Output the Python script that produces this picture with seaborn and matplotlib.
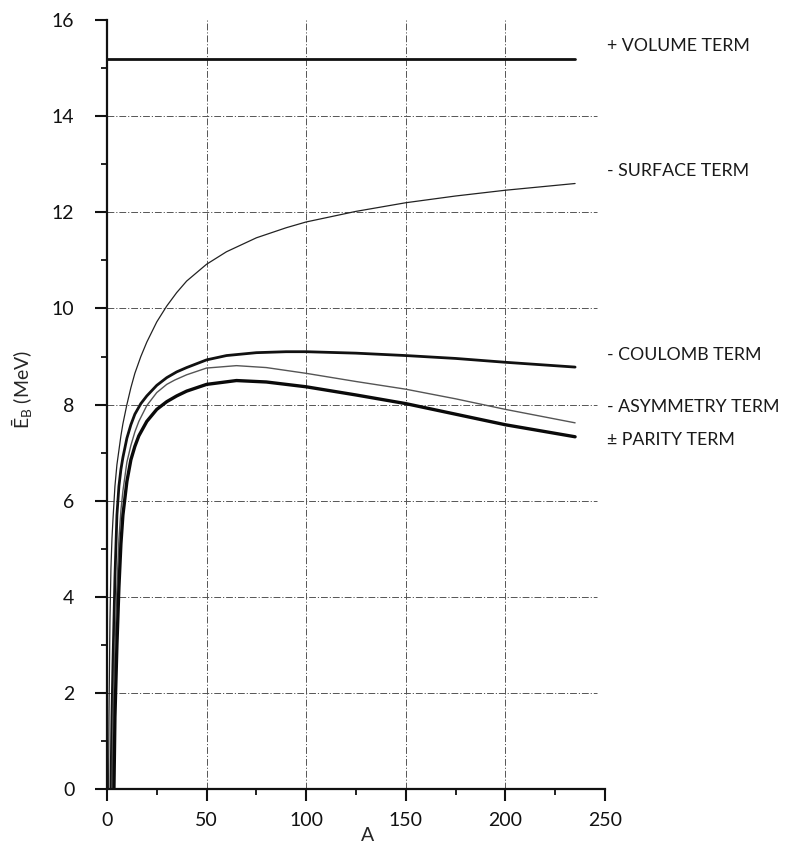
import numpy as np
import pandas as pd
import matplotlib
matplotlib.use("Agg")
import matplotlib.pyplot as plt
import seaborn as sns

sns.set_theme(style="ticks")
plt.rcParams['font.family'] = ['Lato', 'DejaVu Sans']
plt.rcParams['mathtext.fontset'] = 'custom'
plt.rcParams['mathtext.rm'] = 'Lato'

# values (A, mean binding energy per nucleon in MeV)
a_volume = [0, 50, 100, 150, 200, 235]
e_volume = [15.2, 15.2, 15.2, 15.2, 15.2, 15.2]

a_surface = [0.8, 1, 1.5, 2, 2.5, 3, 4, 5, 6, 7, 8, 10, 12, 14, 17, 20, 25,
             30, 35, 40, 50, 60, 75, 90, 100, 125, 150, 175, 200, 235]
e_surface = [0.0, 1.5, 3.5, 4.6, 5.2, 5.6, 6.3, 6.75, 7.05, 7.35, 7.6, 8.0,
             8.35, 8.65, 9.0, 9.3, 9.72, 10.05, 10.33, 10.57, 10.92, 11.18,
             11.47, 11.68, 11.8, 12.02, 12.2, 12.34, 12.46, 12.6]

a_coulomb = [2, 2.5, 3, 3.5, 4, 5, 6, 7, 8, 10, 12, 14, 17, 20, 25, 30, 35, 40,
             50, 60, 75, 90, 100, 125, 150, 175, 200, 235]
e_coulomb = [0.0, 1.5, 2.6, 3.5, 4.4, 5.7, 6.3, 6.65, 6.9, 7.3, 7.58, 7.8,
             8.02, 8.18, 8.4, 8.56, 8.68, 8.77, 8.93, 9.02, 9.08, 9.1, 9.1,
             9.07, 9.02, 8.96, 8.88, 8.78]

a_asym = [2.5, 3, 4, 5, 6, 7, 8, 10, 12, 14, 16, 20, 25, 30, 34, 40, 50, 65,
          80, 100, 125, 150, 175, 200, 235]
e_asym = [0.0, 1.5, 3.0, 4.2, 5.2, 5.8, 6.2, 6.8, 7.15, 7.43, 7.65, 7.98,
          8.25, 8.42, 8.51, 8.62, 8.76, 8.81, 8.77, 8.65, 8.48, 8.32, 8.12,
          7.9, 7.62]

a_parity = [3.5, 4, 5, 6, 7, 8, 10, 12, 14, 16, 20, 25, 30, 35, 40, 50, 65, 80,
            100, 125, 150, 175, 200, 235]
e_parity = [0.0, 1.5, 3.0, 4.2, 5.1, 5.7, 6.4, 6.85, 7.13, 7.35, 7.65, 7.9,
            8.06, 8.18, 8.28, 8.42, 8.5, 8.47, 8.37, 8.2, 8.02, 7.8, 7.58,
            7.33]

labels = ["+ VOLUME TERM", "- SURFACE TERM", "- COULOMB TERM",
          "- ASYMMETRY TERM", "\u00b1 PARITY TERM"]
label_y = [15.46, 12.85, 9.04, 7.94, 7.27]

fig = plt.figure(figsize=(7.9, 8.63), dpi=100)
ax = fig.add_axes([0.1354, 0.0857, 0.6304, 0.891])

# dash-dot grid, only inside the drawn area
grid_style = dict(color="#555555", lw=0.7, linestyles=[(0, (7, 2, 1.2, 2))], zorder=1)
ax.hlines(np.arange(2, 16, 2), 0, 246, **grid_style)
ax.vlines(np.arange(50, 250, 50), 0, 16, **grid_style)

sns.lineplot(x=a_volume, y=e_volume, ax=ax, color="#111111", lw=2.0)
sns.lineplot(x=a_surface, y=e_surface, ax=ax, color="#222222", lw=0.9)
sns.lineplot(x=a_coulomb, y=e_coulomb, ax=ax, color="#111111", lw=2.0)
sns.lineplot(x=a_asym, y=e_asym, ax=ax, color="#555555", lw=1.0)
sns.lineplot(x=a_parity, y=e_parity, ax=ax, color="#0a0a0a", lw=2.4)

for txt, yy in zip(labels, label_y):
    ax.text(251, yy, txt, fontsize=12.8, va="center", ha="left",
            color="#1a1a1a", clip_on=False)

ax.set_xlim(0, 250)
ax.set_ylim(0, 16)
ax.set_xticks([0, 50, 100, 150, 200, 250])
ax.set_xticks(np.arange(25, 250, 50), minor=True)
ax.set_yticks(np.arange(0, 17, 2))
ax.set_yticks(np.arange(1, 16, 2), minor=True)
ax.tick_params(which="major", length=8.5, width=1.5, labelsize=14,
               colors="#111111")
ax.tick_params(axis="y", which="major", pad=15)
ax.tick_params(axis="x", which="major", pad=8)
ax.tick_params(which="minor", length=4, width=1.3, color="#111111")
sns.despine(ax=ax)
for side in ["left", "bottom"]:
    ax.spines[side].set_linewidth(1.6)
    ax.spines[side].set_color("#111111")

ax.set_xlabel("A", fontsize=14)
ax.set_ylabel("\u0112$_\\mathrm{B}$ (MeV)", fontsize=14)
ax.xaxis.set_label_coords(0.524, -0.05)
ax.yaxis.set_label_coords(-0.145, 0.519)

fig.savefig("out.png", dpi=100, facecolor="white")
